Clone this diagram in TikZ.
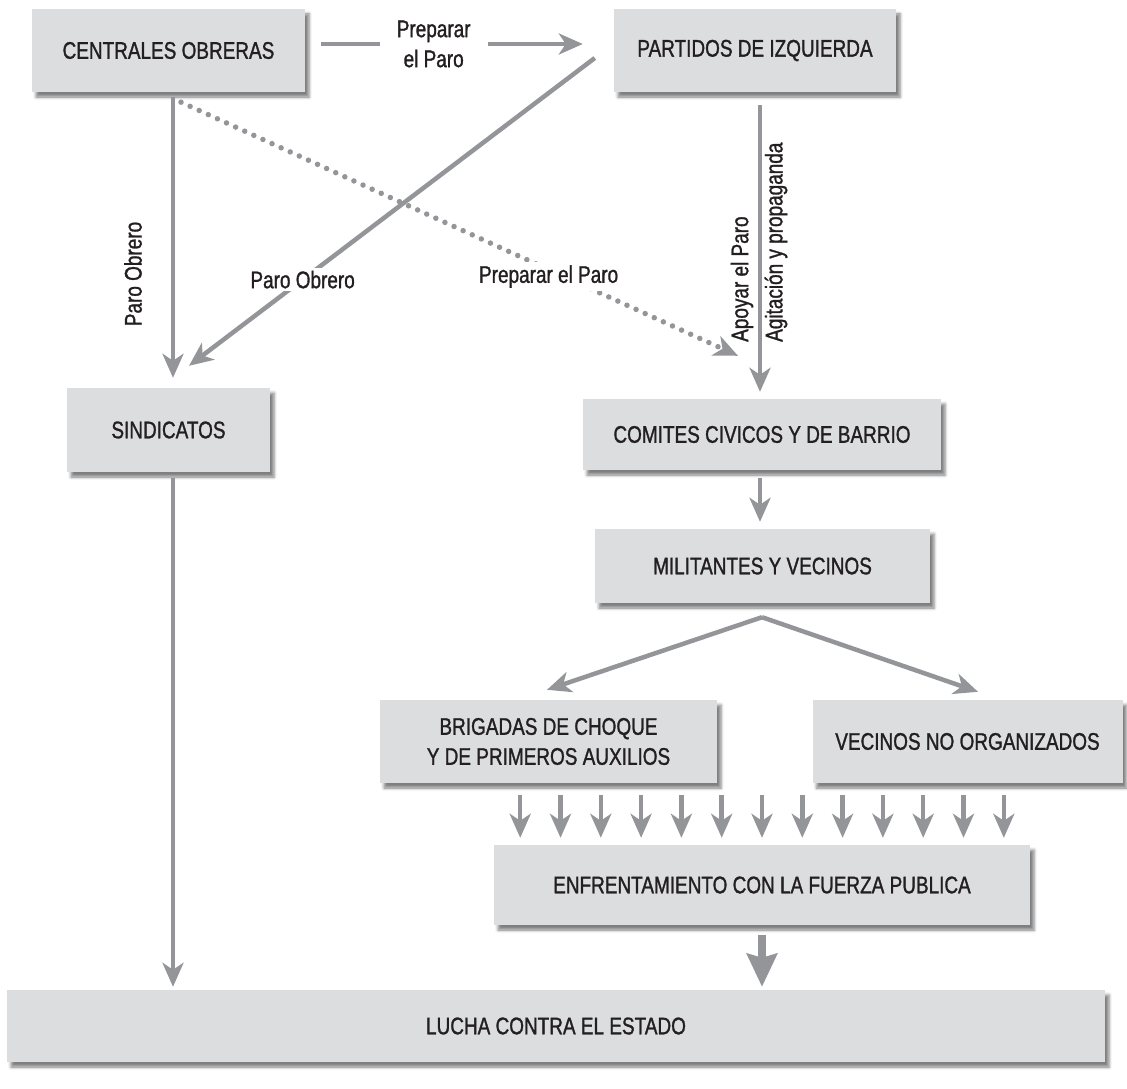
\documentclass[tikz,border=0pt]{standalone}
\usepackage{fontspec}
\setmainfont[FakeStretch=0.79,FakeBold=1.2]{Liberation Sans}
\usetikzlibrary{arrows.meta,calc,shadows.blur}
\definecolor{boxfill}{HTML}{DCDDDF}
\definecolor{arrgray}{HTML}{939598}
\definecolor{ink}{HTML}{231F20}
\begin{document}
\begin{tikzpicture}[x=1pt,y=-1pt,
  box/.style={rectangle, fill=boxfill, inner sep=0pt, text=ink, align=center,
    font=\fontsize{24}{30}\selectfont,
    blur shadow={shadow xshift=4pt, shadow yshift=-5pt, shadow blur radius=3pt, shadow opacity=50}},
  arr/.style={draw=arrgray, line width=4.5pt, -{Stealth[length=24pt, width=21pt, inset=7pt]}},
  bigarr/.style={draw=arrgray, line width=8pt, -{Stealth[length=33pt, width=30pt, inset=4pt]}},
  dotarr/.style={arr, line width=5.5pt, dash pattern=on 0pt off 10pt, line cap=round},
  lbl/.style={text=ink, font=\fontsize{24}{30}\selectfont, inner sep=3pt, align=center},
  wlbl/.style={lbl, fill=white}]
\useasboundingbox (0,0) rectangle (1127,1089);

% boxes
\node[box, minimum width=273pt, minimum height=83pt] (co) at (168.5,50.5) {CENTRALES OBRERAS};
\node[box, minimum width=282pt, minimum height=83pt] (pi) at (755,50.5) {PARTIDOS DE IZQUIERDA};
\node[box, minimum width=203pt, minimum height=84pt] (si) at (168.5,430) {SINDICATOS};
\node[box, minimum width=358pt, minimum height=71pt] (cc) at (762,434.5) {COMITES CIVICOS Y DE BARRIO};
\node[box, minimum width=335pt, minimum height=74pt] (mv) at (762.5,566) {MILITANTES Y VECINOS};
\node[box, minimum width=337pt, minimum height=83pt] (br) at (548.5,741.5) {BRIGADAS DE CHOQUE\\Y DE PRIMEROS AUXILIOS};
\node[box, minimum width=310pt, minimum height=83pt] (vn) at (967.5,741.5) {VECINOS NO ORGANIZADOS};
\node[box, minimum width=536pt, minimum height=80pt] (ef) at (762,885) {ENFRENTAMIENTO CON LA FUERZA PUBLICA};
\node[box, minimum width=1098pt, minimum height=72pt] (lu) at (556,1026) {LUCHA CONTRA EL ESTADO};

% Centrales -> Partidos
\draw[arr] ($(co.east)+(16,-6.5)$) -- node[wlbl, pos=0.43, inner xsep=17pt] (l1) {Preparar\\el Paro} ($(pi.west)+(-31,-6.5)$);

% Centrales -> Comites (dotted)
\draw[dotarr] ($(co.south)+(12.5,10)$) -- node[wlbl, pos=0.66, yshift=-7pt] (l4) {Preparar el Paro} ($(cc.north)+(-24,-43)$);

% Partidos -> Sindicatos
\draw[arr] ($(pi.west)+(-19,7.5)$) -- node[wlbl, pos=0.72] (l2) {Paro Obrero} ($(si.north)+(20.5,-22)$);

% Centrales -> Sindicatos
\draw[arr] ($(co.south)+(4.5,5)$) -- ($(si.north)+(4.5,-10)$);
\node[lbl, rotate=90] (l3) at (133,274) {Paro Obrero};

% Partidos -> Comites
\draw[arr] ($(pi.south)+(5,13)$) -- ($(cc.north)+(-2,-7)$);
\node[lbl, rotate=90, anchor=west] (l5) at (742,345) {Apoyar el Paro};
\node[lbl, rotate=90, anchor=west] (l6) at (776,345) {Agitación y propaganda};

% Comites -> Militantes
\draw[arr] ($(cc.south)+(-2,8)$) -- ($(mv.north)+(-2.5,-7)$);

% Militantes -> Brigadas / Vecinos
\coordinate (mvb) at ($(mv.south)+(-0.5,14)$);
\draw[arr] (mvb) -- ($(br.north)+(-1.5,-10)$);
\draw[arr] (mvb) -- ($(vn.north)+(10.5,-8)$);

% many arrows into Enfrentamiento
\foreach \k in {-6,...,6}{
  \draw[arr] ($(ef.north)+(40.3*\k,-50)$) -- ($(ef.north)+(40.3*\k,-7)$);
}

% Enfrentamiento -> Lucha
\draw[bigarr] ($(ef.south)+(0,10)$) -- ($(ef.south |- lu.north)+(0,-3)$);

% Sindicatos -> Lucha
\draw[arr] ($(si.south)+(4.5,6)$) -- ($(si.south |- lu.north)+(4.5,-3)$);
\end{tikzpicture}
\end{document}
